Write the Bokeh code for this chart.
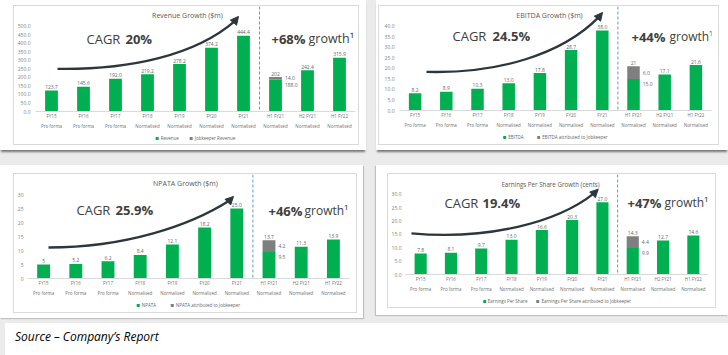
from bokeh.plotting import figure
from bokeh.models import (ColumnDataSource, Range1d, FactorRange, Label, Span,
                          Legend, LegendItem, Arrow, NormalHead, Div, FixedTicker, NumeralTickFormatter)
from bokeh.layouts import row, column
from bokeh.core.properties import value
from bokeh.embed import file_html
from bokeh.resources import INLINE

# ---------------- data ----------------
period_names = ["FY15", "FY16", "FY17", "FY18", "FY19", "FY20", "FY21", "H1 FY21", "H2 FY21", "H1 FY22"]
period_basis = ["Pro forma", "Pro forma", "Pro forma", "Normalised", "Normalised", "Normalised",
                "Normalised", "Normalised", "Normalised", "Normalised"]

revenue = [123.7, 145.6, 192.0, 219.2, 278.2, 374.2, 444.4, 188.0, 242.4, 315.9]
revenue_jobkeeper = [0, 0, 0, 0, 0, 0, 0, 14.0, 0, 0]
revenue_labels = ["123.7", "145.6", "192.0", "219.2", "278.2", "374.2", "444.4", "202", "242.4", "315.9"]
revenue_ticks = [0, 50, 100, 150, 200, 250, 300, 350, 400, 450, 500]

ebitda = [8.2, 8.9, 10.3, 13.0, 17.8, 28.7, 38.0, 15.0, 17.1, 21.6]
ebitda_jobkeeper = [0, 0, 0, 0, 0, 0, 0, 6.0, 0, 0]
ebitda_labels = ["8.2", "8.9", "10.3", "13.0", "17.8", "28.7", "38.0", "21", "17.1", "21.6"]
ebitda_ticks = [0, 5, 10, 15, 20, 25, 30, 35, 40]

npata = [5, 5.2, 6.2, 8.4, 12.1, 18.2, 25.0, 9.5, 11.3, 13.9]
npata_jobkeeper = [0, 0, 0, 0, 0, 0, 0, 4.2, 0, 0]
npata_labels = ["5", "5.2", "6.2", "8.4", "12.1", "18.2", "25.0", "13.7", "11.3", "13.9"]
npata_ticks = [0, 5, 10, 15, 20, 25, 30]

eps = [7.8, 8.1, 9.7, 13.0, 16.6, 20.3, 27.0, 9.9, 12.7, 14.6]
eps_jobkeeper = [0, 0, 0, 0, 0, 0, 0, 4.4, 0, 0]
eps_labels = ["7.8", "8.1", "9.7", "13.0", "16.6", "20.3", "27.0", "14.3", "12.7", "14.6"]
eps_ticks = [0, 5, 10, 15, 20, 25, 30]

# two-row category labels: (second line, first line); zero-width spaces keep each group unique
factors = [(b + "\u200b" * i, a) for i, (a, b) in enumerate(zip(period_names, period_basis))]

# ---------------- style ----------------
GREEN = "#00b050"
JK = "#7f7f7f"
ARROW = "#2b373d"
DASH = "#5b9bd5"
INK = "#404040"
SMALL = "#666666"
CARD = "#d9d9d9"
PAGE = "#ebebeb"
FONT = "Open Sans"


def make_panel(values, jobkeeper, bar_labels, ticks, tick_fmt, names, geo):
    IW, IH = geo["image"]
    cl, ct, cr, cb = geo["card"]          # card border lines (image coords)
    fl, fr, ft, fb = geo["frame"]         # plot frame (image coords)
    ox, oy = cl + 1, ct + 1               # card interior origin
    W, Hc = cr - ox, cb - oy
    H = (fb - oy) + geo["axis_space"]     # main chart height, legend strip below
    ymax = geo["ymax"]
    step = (fr - fl) / len(factors)
    ppu = (fb - ft) / ymax

    def dx(px):
        return (px - fl) / step

    def dy(py):
        return (fb - py) / ppu

    p = figure(width=W, height=H,
               x_range=FactorRange(factors=factors, factor_padding=0, group_padding=0,
                                   subgroup_padding=0, range_padding=0),
               y_range=Range1d(0, ymax), output_backend="svg", toolbar_location=None, tools="")
    p.min_border_left = fl - ox
    p.min_border_right = W - (fr - ox)
    p.min_border_top = max(ft - oy, 0)
    p.min_border_bottom = H - (fb - oy)
    p.border_fill_color = "white"
    p.background_fill_color = "white"
    p.outline_line_color = None
    p.xgrid.visible = False
    p.ygrid.visible = False

    # axes
    ya = p.yaxis[0]
    ya.ticker = FixedTicker(ticks=ticks)
    ya.formatter = NumeralTickFormatter(format=tick_fmt)
    ya.axis_line_color = None
    ya.major_tick_line_color = None
    ya.minor_tick_line_color = None
    ya.major_tick_out = 0
    ya.major_tick_in = 0
    ya.minor_tick_out = 0
    ya.major_label_text_font = FONT
    ya.major_label_text_font_size = "5px"
    ya.major_label_text_color = "#808080"
    ya.major_label_standoff = geo["ystand"]

    xa = p.xaxis[0]
    xa.axis_line_color = CARD
    xa.major_tick_line_color = None
    xa.minor_tick_line_color = None
    xa.major_tick_out = 0
    xa.major_tick_in = 0
    xa.major_label_text_font = FONT
    xa.major_label_text_font_size = "4.5px"
    xa.major_label_text_color = "#707070"
    xa.major_label_standoff = 1
    xa.group_text_font = FONT
    xa.group_text_font_size = "4.5px"
    xa.group_text_font_style = "normal"
    xa.group_text_color = "#707070"
    xa.separator_line_color = None

    # bars
    src = ColumnDataSource(dict(x=factors, top=values))
    p.vbar(x="x", top="top", width=0.4, source=src, fill_color=GREEN, line_color=None)
    idx = [i for i, j in enumerate(jobkeeper) if j > 0]
    src2 = ColumnDataSource(dict(x=[factors[i] for i in idx],
                                 bottom=[values[i] for i in idx],
                                 top=[values[i] + jobkeeper[i] for i in idx]))
    p.vbar(x="x", bottom="bottom", top="top", width=0.4, source=src2,
           fill_color=JK, line_color=None)

    # value labels
    totals = [v + j for v, j in zip(values, jobkeeper)]
    lsrc = ColumnDataSource(dict(x=factors, y=[t + 1.5 / ppu for t in totals], text=bar_labels))
    p.text(x="x", y="y", text="text", source=lsrc, text_font=value(FONT),
           text_font_size="5px", text_color=SMALL, text_align="center", text_baseline="bottom")
    sx, sy, st = [], [], []
    for i in idx:
        sx += [factors[i], factors[i]]
        sy += [values[i] + jobkeeper[i] / 2, values[i] - 5.5 / ppu]
        st += [f"{jobkeeper[i]:.1f}", f"{values[i]:.1f}"]
    ssrc = ColumnDataSource(dict(x=sx, y=sy, text=st))
    p.text(x="x", y="y", text="text", source=ssrc, x_offset=0.2 * step + 3,
           text_font=value(FONT), text_font_size="5px", text_color=SMALL,
           text_align="left", text_baseline="middle")

    # dashed separator between annual and half-year periods
    p.add_layout(Span(location=7, dimension="height", line_color=DASH,
                      line_dash="3 2", line_width=1))

    # title & headline texts (canvas units, relative to the card interior)
    tx, ty, tsize = geo["title"]
    p.add_layout(Label(x=tx - ox, y=ty - oy, x_units="canvas", y_units="canvas", text=names[2],
                       text_font=FONT, text_font_size=f"{tsize}px", text_color="#595959",
                       text_align="center", text_baseline="middle"))
    for (txt, x, y, bold, size) in geo["texts"]:
        p.add_layout(Label(x=x - ox, y=y - oy, x_units="canvas", y_units="canvas", text=txt,
                           text_font=FONT, text_font_size=f"{size}px",
                           text_font_style="bold" if bold else "normal",
                           text_color=INK, text_align="left", text_baseline="middle"))

    # curved arrow
    (x0, y0), (c1x, c1y), (c2x, c2y), (x1, y1), (tipx, tipy) = geo["arrow"]
    p.bezier(x0=[dx(x0)], y0=[dy(y0)], x1=[dx(x1)], y1=[dy(y1)],
             cx0=[dx(c1x)], cy0=[dy(c1y)], cx1=[dx(c2x)], cy1=[dy(c2y)],
             line_color=ARROW, line_width=2.3)
    p.add_layout(Arrow(x_start=dx(x1), y_start=dy(y1), x_end=dx(tipx), y_end=dy(tipy),
                       end=NormalHead(size=8, fill_color=ARROW, line_color=ARROW),
                       line_color=ARROW, line_width=2.3))

    # legend strip (own small figure inside the card); proxy bars sit outside its view
    lg = figure(width=W, height=Hc - H, x_range=Range1d(0, 1), y_range=Range1d(0, 1),
                output_backend="svg", toolbar_location=None, tools="",
                x_axis_type=None, y_axis_type=None, min_border=0)
    lg.border_fill_color = "white"
    lg.background_fill_color = "white"
    lg.outline_line_color = None
    lg.grid.visible = False
    rg = lg.vbar(x=[-10], top=[-10], width=0.1, fill_color=GREEN, line_color=None)
    rk = lg.vbar(x=[-10], top=[-10], width=0.1, fill_color=JK, line_color=None)
    legend = Legend(items=[LegendItem(label=value(names[0]), renderers=[rg]),
                           LegendItem(label=value(names[1]), renderers=[rk])],
                    orientation="horizontal", location="center",
                    label_text_font=FONT, label_text_font_size="4.5px", label_text_color=SMALL,
                    glyph_width=4, glyph_height=4, label_height=4, label_standoff=2,
                    spacing=8, padding=0, margin=0,
                    border_line_color=None, background_fill_alpha=0)
    lg.add_layout(legend)

    card = column(p, lg, styles={"box-shadow": "0 0 0 1px " + CARD})
    card.margin = (oy, IW - cr, IH - cb, ox)
    return card


geo1 = dict(image=(366, 150), card=(13, 5, 358, 144), frame=(35, 355, 6, 112), axis_space=19,
            ymax=500 * 106 / 86, ystand=5, title=(187, 15, 7),
            texts=[("CAGR", 86, 38, False, 13), ("20%", 125, 38, True, 13),
                   ("+68%", 271, 38, True, 13), ("growth¹", 308, 38, False, 12.5)],
            arrow=((57, 69), (130, 70), (195, 55), (234, 21), (238, 16)))
geo2 = dict(image=(352, 150), card=(2, 5, 342, 144), frame=(23, 335, 6, 111), axis_space=19,
            ymax=40 * 105 / 85, ystand=5, title=(173, 15, 7),
            texts=[("CAGR", 76, 35, False, 13), ("24.5%", 116, 35, True, 13),
                   ("+44%", 255, 36, True, 13), ("growth¹", 293, 36, False, 12)],
            arrow=((50, 72), (120, 74), (185, 55), (222, 17), (226, 12)))
geo3 = dict(image=(363, 153), card=(13, 8, 356, 147), frame=(27, 349, 9, 113), axis_space=20,
            ymax=30 * 104 / 84, ystand=4, title=(185, 18, 7),
            texts=[("CAGR", 76, 44, False, 13), ("25.9%", 115, 44, True, 13),
                   ("+46%", 268, 45, True, 13), ("growth¹", 304, 45, False, 12)],
            arrow=((48, 82), (125, 82), (190, 60), (229, 35), (233, 31)))
geo4 = dict(image=(352, 150), card=(11, 8, 339, 142), frame=(27, 332, 9, 111), axis_space=18,
            ymax=30 * 102 / 82, ystand=4, title=(174, 19, 6.2),
            texts=[("CAGR", 68, 37, False, 13), ("19.4%", 106, 37, True, 13),
                   ("+47%", 251, 37, True, 13), ("growth¹", 288, 37, False, 12)],
            arrow=((33, 69), (110, 76), (180, 58), (217, 28), (221, 24)))

c1 = make_panel(revenue, revenue_jobkeeper, revenue_labels, revenue_ticks, "0.0",
                ["Revenue", "Jobkeeper Revenue", "Revenue Growth ($m)"], geo1)
c2 = make_panel(ebitda, ebitda_jobkeeper, ebitda_labels, ebitda_ticks, "0.0",
                ["EBITDA", "EBITDA attributed to Jobkeeper", "EBITDA Growth ($m)"], geo2)
c3 = make_panel(npata, npata_jobkeeper, npata_labels, npata_ticks, "0",
                ["NPATA", "NPATA attributed to Jobkeeper", "NPATA Growth ($m)"], geo3)
c4 = make_panel(eps, eps_jobkeeper, eps_labels, eps_ticks, "0.0",
                ["Earnings Per Share", "Earnings Per Share attributed to Jobkeeper",
                 "Earnings Per Share Growth (cents)"], geo4)

top_shadow = "0 3px 2px -1px rgba(0,0,0,0.5)"
w1 = column(c1, styles={"background-color": "white", "box-shadow": top_shadow})
w2 = column(c2, styles={"background-color": "white", "box-shadow": top_shadow})
w3 = column(c3, styles={"background-color": "white", "box-shadow": "1px 1px 1px rgba(0,0,0,0.18)"})
w4 = column(c4, styles={"background-color": "white", "box-shadow": "-1px 1px 1px rgba(0,0,0,0.18)"})
w2.margin = (0, 0, 0, 10)
w3.margin = (15, 0, 0, 0)
w4.margin = (15, 0, 0, 13)

source_div = Div(text="Source – Company’s Report", width=728, height=37,
                 styles={"background-color": "white", "font-family": "Open Sans",
                         "font-style": "italic", "font-size": "12px", "color": "#000000",
                         "padding": "5px 0 0 10px", "box-sizing": "border-box"})

layout = column(row(w1, w2), row(w3, w4), source_div,
                styles={"background-color": PAGE})

open("out.html", "w").write(file_html(layout, INLINE))
